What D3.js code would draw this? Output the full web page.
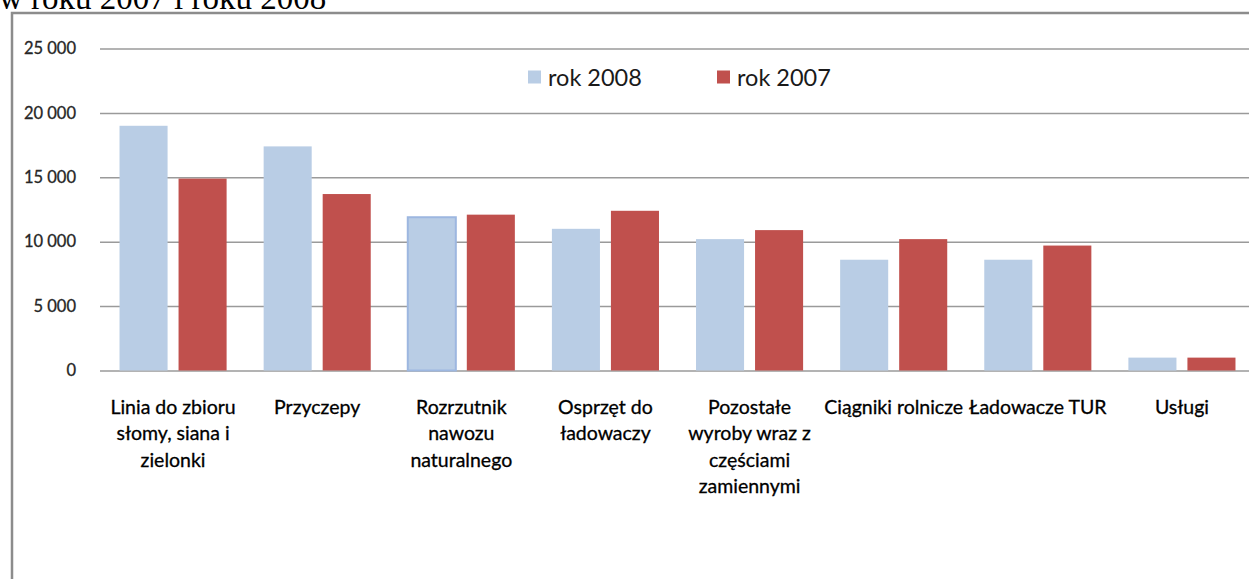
<!DOCTYPE html>
<html>
<head>
<meta charset="utf-8">
<script src="https://cdn.jsdelivr.net/npm/d3@7"></script>
<style>
  body { margin: 0; background: #fff; }
  svg { display: block; }
</style>
</head>
<body>
<div id="chart"></div>
<script>
// data
const categories = [
  'Linia do zbioru\nsłomy, siana i\nzielonki',
  'Przyczepy',
  'Rozrzutnik\nnawozu\nnaturalnego',
  'Osprzęt do\nładowaczy',
  'Pozostałe\nwyroby wraz z\nczęściami\nzamiennymi',
  'Ciągniki rolnicze',
  'Ładowacze TUR',
  'Usługi'
]
const series = ['rok 2008', 'rok 2007']
const values2008 = [19000, 17400, 11900, 11000, 10200, 8600, 8600, 1000]
const values2007 = [14900, 13700, 12100, 12400, 10900, 10200, 9700, 1000]
const yTicks = [0, 5000, 10000, 15000, 20000, 25000]
const titleText = 'w roku 2007 i roku 2008'

init()

function init(){
    const W = 1249, H = 579
    const colors = {'rok 2008': '#b9cde5', 'rok 2007': '#c0504d'}

    let svg = d3.select('#chart')
                .append('svg')
                .attr('width', W)
                .attr('height', H)

    // page title, cut off at the top like in the page scan
    svg.append('text')
        .attr('x', -1)
        .attr('y', 9)
        .style('font-family', '"Liberation Serif", "Times New Roman", serif')
        .style('font-size', '33px')
        .style('fill', '#000')
        .text(titleText)

    // chart frame
    svg.append('rect')
        .attr('x', 12)
        .attr('y', 13)
        .attr('width', 1260)
        .attr('height', 620)
        .style('fill', '#fff')
        .style('stroke', '#8c8c8c')
        .style('stroke-width', 2.5)

    const y = d3.scaleLinear()
        .domain([0, 25000])
        .range([370.5, 48.5])

    const x0 = d3.scaleBand()
        .domain(d3.range(categories.length))
        .range([101, 1254])
        .paddingInner(0.257)
        .paddingOuter(0.1285)

    const x1 = d3.scaleBand()
        .domain(series)
        .range([0, x0.bandwidth()])
        .paddingInner(0.186)

    const fmt = d => d3.format(',')(d).replace(/,/g, ' ')

    // gridlines + labels
    const yAxis = d3.axisLeft(y)
        .tickValues(yTicks)
        .tickFormat(fmt)
        .tickSize(-(W - 100))
        .tickPadding(24)

    let gy = svg.append('g')
        .attr('transform', 'translate(100,0)')
        .call(yAxis)
    gy.select('.domain').remove()
    gy.selectAll('.tick line')
        .style('stroke', '#9a9a9a')
        .style('stroke-width', 1.5)
    gy.selectAll('.tick text')
        .style('font-family', 'Lato, "Open Sans", sans-serif')
        .style('font-size', '16.5px')
        .style('fill', '#262626')
        .style('stroke', '#262626')
        .style('stroke-width', 0.3)

    // bars
    const rows = categories.map((c, i) => ({i: i, vals: [
        {s: 'rok 2008', v: values2008[i]},
        {s: 'rok 2007', v: values2007[i]}
    ]}))

    let groups = svg.append('g').selectAll('g')
        .data(rows)
        .join('g')
        .attr('transform', d => `translate(${x0(d.i)},0)`)

    groups.selectAll('rect')
        .data(d => d.vals.map(e => ({...e, i: d.i})))
        .join('rect')
        .attr('x', d => x1(d.s))
        .attr('y', d => y(d.v))
        .attr('width', x1.bandwidth())
        .attr('height', d => y(0) - y(d.v))
        .style('fill', d => colors[d.s])
        .style('stroke', d => (d.i === 2 && d.s === 'rok 2008') ? '#9db7e0' : 'none')
        .style('stroke-width', 2)

    // category labels
    let labels = svg.append('g').selectAll('text')
        .data(categories)
        .join('text')
        .attr('text-anchor', 'middle')
        .style('font-family', 'Lato, "Open Sans", sans-serif')
        .style('font-size', '19.5px')
        .style('fill', '#000')
        .style('stroke', '#000')
        .style('stroke-width', 0.3)

    labels.each(function(d, i){
        const cx = x0(i) + x0.bandwidth() / 2
        d3.select(this).selectAll('tspan')
            .data(d.split('\n'))
            .join('tspan')
            .attr('x', cx)
            .attr('y', (t, k) => 413.5 + k * 26.6)
            .text(t => t)
    })

    // legend
    const legendX = [528, 717]
    let legend = svg.append('g').selectAll('g')
        .data(series)
        .join('g')
        .attr('transform', (d, i) => `translate(${legendX[i]},70.5)`)

    legend.append('rect')
        .attr('width', 13)
        .attr('height', 13)
        .style('fill', d => colors[d])

    legend.append('text')
        .attr('x', 20)
        .attr('y', 15.5)
        .style('font-family', 'Lato, "Open Sans", sans-serif')
        .style('font-size', '23.5px')
        .style('fill', '#1a1a1a')
        .text(d => d)
}
</script>
</body>
</html>
